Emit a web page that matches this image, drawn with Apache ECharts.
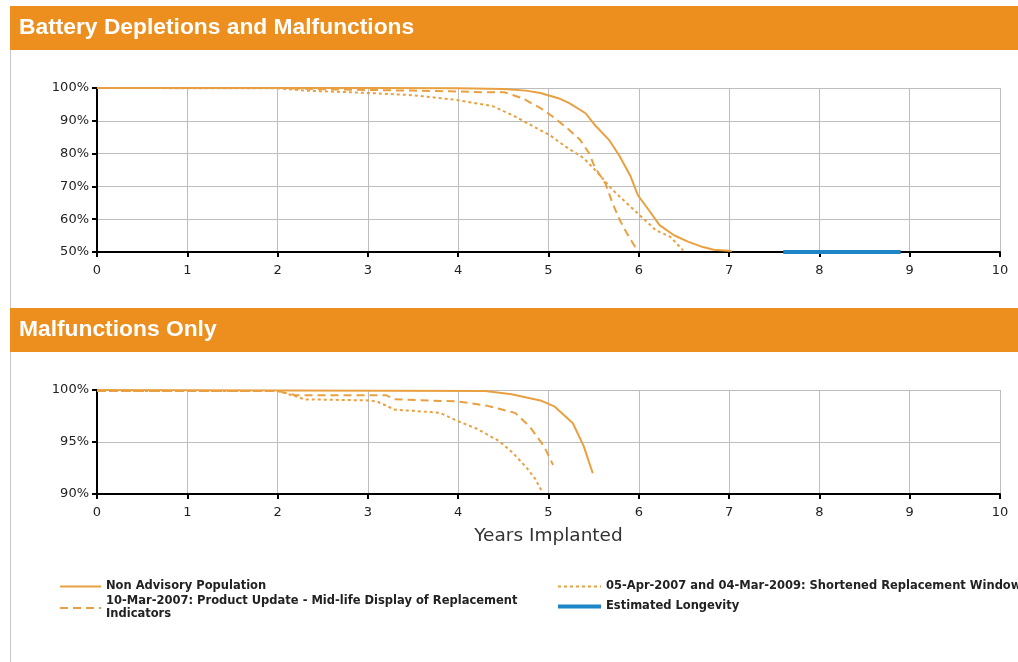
<!DOCTYPE html>
<html><head><meta charset="utf-8">
<script src="https://cdn.jsdelivr.net/npm/echarts@6/dist/echarts.min.js"></script>
<style>html,body{margin:0;padding:0;background:#fff}#c{width:1018px;height:662px}</style>
</head><body><div id="c"></div>
<script>
var panelTitles = ['Battery Depletions and Malfunctions', 'Malfunctions Only'];
var seriesNames = [
  'Non Advisory Population',
  '10-Mar-2007: Product Update - Mid-life Display of Replacement Indicators',
  '05-Apr-2007 and 04-Mar-2009: Shortened Replacement Window',
  'Estimated Longevity'
];
var xTicks = [0,1,2,3,4,5,6,7,8,9,10];
var xAxisName = 'Years Implanted';
// Battery Depletions and Malfunctions (survival %, by years implanted)
var battNonAdvisory = [[0,100],[2,100],[3,100],[4,99.9],[4.5,99.7],[4.75,99.2],[4.91,98.5],[5.11,96.9],[5.23,95.4],[5.41,92.3],[5.51,88.8],[5.67,84.2],[5.79,79.1],[5.91,73.0],[5.99,67.3],[6.11,62.8],[6.23,58.2],[6.39,55.1],[6.55,53.1],[6.71,51.5],[6.83,50.7],[7.03,50.3]];
var battMidLife = [[0,100],[2,100],[2.5,99.6],[3,99.4],[3.5,99.2],[3.91,99.0],[4.31,98.7],[4.51,98.7],[4.71,96.9],[4.91,93.9],[5.07,90.8],[5.23,87.2],[5.35,84.2],[5.45,80.1],[5.51,76.0],[5.63,70.9],[5.71,64.8],[5.79,59.7],[5.87,55.6],[5.96,51.5],[6.0,50.5]];
var battShortened = [[0,100],[2,99.9],[2.3,99.2],[3,98.5],[3.5,97.8],[4,96.3],[4.39,94.4],[4.63,91.3],[4.83,88.3],[5.01,85.7],[5.19,82.1],[5.39,78.6],[5.55,74.0],[5.71,68.9],[5.87,64.8],[6.03,60.7],[6.19,56.6],[6.35,54.6],[6.49,50.5]];
var battLongevity = [[7.6,50],[8.9,50]];
// Malfunctions Only
var malNonAdvisory = [[0,100],[4.3,99.9],[4.59,99.6],[4.91,99.0],[5.07,98.4],[5.27,96.8],[5.39,94.6],[5.49,92.0]];
var malMidLife = [[0,99.9],[2,99.9],[2.2,99.5],[3.2,99.5],[3.3,99.1],[4.0,98.9],[4.31,98.5],[4.63,97.8],[4.79,96.5],[4.95,94.6],[5.05,92.8]];
var malShortened = [[0,99.9],[2,99.9],[2.2,99.4],[2.3,99.1],[3.0,99.0],[3.1,98.9],[3.3,98.1],[3.5,98.0],[3.8,97.8],[4.0,97.0],[4.2,96.3],[4.45,95.1],[4.6,94.0],[4.75,92.6],[4.85,91.5],[4.93,90.2]];

var ORANGE = '#E9A040', BLUE = '#1E86C6', HEAD = '#ED8F1F';
var chart = echarts.init(document.getElementById('c'), null, {renderer:'canvas'});
var axisFont = {fontFamily:'DejaVu Sans', fontSize:13, color:'#222'};
function xAx(gi, withName){
  var a = {type:'value', gridIndex:gi, min:0, max:10, interval:1,
    axisLine:{show:true, onZero:false, lineStyle:{color:'#000', width:2}},
    axisTick:{show:true, length:5, lineStyle:{color:'#000', width:2}},
    axisLabel:Object.assign({margin:12, formatter:function(v){return xTicks.indexOf(v)>=0?String(v):'';}}, axisFont),
    splitLine:{show:true, lineStyle:{color:'#BDBDBD', width:1}}};
  if (withName){ a.name = xAxisName; a.nameLocation='middle'; a.nameGap=33;
    a.nameTextStyle={fontFamily:'DejaVu Sans', fontSize:18.5, color:'#333'}; }
  return a;
}
function yAx(gi, mn, mx, iv){
  return {type:'value', gridIndex:gi, min:mn, max:mx, interval:iv,
    axisLine:{show:true, lineStyle:{color:'#000', width:2}},
    axisTick:{show:true, length:5, lineStyle:{color:'#000', width:2}},
    axisLabel:Object.assign({margin:8, formatter:'{value}%'}, axisFont),
    splitLine:{show:true, lineStyle:{color:'#BDBDBD', width:1}}};
}
function ln(name, data, gi, type, color, width){
  return {name:name, type:'line', xAxisIndex:gi, yAxisIndex:gi, data:data, symbol:'none',
    showSymbol:false, clip:false, z:5, animation:false,
    lineStyle:{color:color, width:width, type:type}, itemStyle:{color:color}};
}
var dashT = [8,5], dotT = [3,3];
var legendText = {fontFamily:'DejaVu Sans', fontSize:11.5, fontWeight:'bold', color:'#222', lineHeight:13};
var legendCommon = {orient:'vertical', padding:0, itemHeight:12, selectedMode:false,
  textStyle:legendText, itemStyle:{opacity:0}};
chart.setOption({
  animation:false,
  graphic:[
    {type:'rect', shape:{x:10, y:50, width:1, height:612}, style:{fill:'#C8C8C8'}},
    {type:'rect', shape:{x:10, y:6, width:1008, height:44}, style:{fill:HEAD}},
    {type:'text', left:19, top:16, style:{text:panelTitles[0], fill:'#fff', font:'bold 22.8px "Liberation Sans", Arial, sans-serif'}},
    {type:'rect', shape:{x:10, y:308, width:1008, height:44}, style:{fill:HEAD}},
    {type:'text', left:19, top:318, style:{text:panelTitles[1], fill:'#fff', font:'bold 22.8px "Liberation Sans", Arial, sans-serif'}}
  ],
  grid:[
    {left:97, right:18, top:88, height:164},
    {left:97, right:18, top:390, height:104}
  ],
  xAxis:[xAx(0,false), xAx(1,true)],
  yAxis:[yAx(0,50,100,10), yAx(1,90,100,5)],
  legend:[
    Object.assign({left:59, top:580, itemGap:2, itemWidth:41,
     data:[seriesNames[0], seriesNames[1]],
     formatter:function(n){return n.replace('Replacement Indicators','Replacement\nIndicators');}}, legendCommon),
    Object.assign({left:556, top:580, itemGap:7, itemWidth:43,
     data:[seriesNames[2], {name:seriesNames[3], lineStyle:{width:4}}]}, legendCommon)
  ],
  series:[
    ln(seriesNames[0], battNonAdvisory, 0, 'solid', ORANGE, 2),
    ln(seriesNames[1], battMidLife, 0, dashT, ORANGE, 2),
    ln(seriesNames[2], battShortened, 0, dotT, ORANGE, 2),
    ln(seriesNames[3], battLongevity, 0, 'solid', BLUE, 4),
    ln(seriesNames[0], malNonAdvisory, 1, 'solid', ORANGE, 2),
    ln(seriesNames[1], malMidLife, 1, dashT, ORANGE, 2),
    ln(seriesNames[2], malShortened, 1, dotT, ORANGE, 2)
  ]
});
</script></body></html>
